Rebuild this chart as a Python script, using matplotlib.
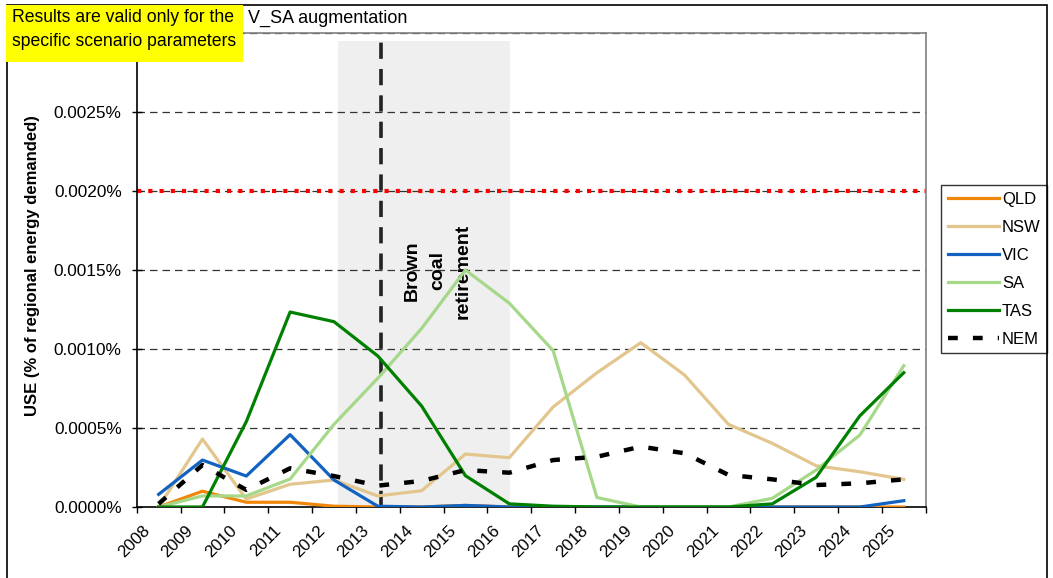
import matplotlib
matplotlib.use("Agg")
import matplotlib.pyplot as plt
import matplotlib.transforms as mtrans
from matplotlib.patches import Rectangle
import numpy as np

plt.rcParams['font.family'] = ['Liberation Sans', 'DejaVu Sans']

years = [str(y) for y in range(2008, 2026)]
qld = [0, 0.00010, 0.00003, 0.00003, 0.000005, 0, 0, 0.00001, 0, 0, 0, 0, 0, 0, 0, 0, 0, 0]
nsw = [0, 0.00043, 0.00005, 0.000144, 0.000171, 0.00007, 0.000103, 0.000335, 0.000312,
       0.000633, 0.00085, 0.00104, 0.000835, 0.000523, 0.000403, 0.000261, 0.000223, 0.000175]
vic = [0.00008, 0.000297, 0.000196, 0.000458, 0.000171, 0.000005, 0, 0.00001, 0,
       0, 0, 0, 0, 0, 0, 0, 0, 0.00004]
sa = [0, 0.00007, 0.00007, 0.000177, 0.000523, 0.000815, 0.00113, 0.0015, 0.00129,
      0.00099, 0.00006, 0, 0, 0, 0.000055, 0.000234, 0.000456, 0.000894]
tas = [0, 0, 0.00054, 0.001234, 0.001173, 0.000956, 0.000639, 0.000198, 0.00002,
       0.000005, 0, 0, 0, 0, 0.00002, 0.000188, 0.000578, 0.00085]
nem = [0.00002, 0.000266, 0.000108, 0.000245, 0.000196, 0.000135, 0.000165, 0.000234, 0.000217,
       0.000297, 0.000318, 0.000382, 0.00034, 0.000203, 0.000175, 0.000139, 0.00015, 0.000175]

series_names = ['QLD', 'NSW', 'VIC', 'SA', 'TAS']
series_vals = [qld, nsw, vic, sa, tas]
series_colors = ['#F0870A', '#E2C68E', '#1262C2', '#A6D88A', '#008000']

threshold = 0.002
retire_pos = 5.07
shade_span = (4.1, 8.02)
shade_top = 0.00295
yticks = [0, 0.0005, 0.001, 0.0015, 0.002, 0.0025, 0.003]

W, H = 1053, 578
fig = plt.figure(figsize=(W / 100, H / 100), dpi=100)
ax = fig.add_axes([136.7 / W, 1 - 507 / H, (925.7 - 136.7) / W, (507 - 33) / H])

x = np.arange(len(years))
ax.set_xlim(-0.5, len(years) - 0.5)
ax.set_ylim(0, 0.003)

# shaded retirement region
ax.fill_between(list(shade_span), 0, shade_top, color='#EFEFEF', zorder=0.5, lw=0)

# grid
for yv in yticks[1:]:
    ax.axhline(yv, color='#333333', lw=0.9, dashes=(6, 4), zorder=1)

# threshold
ax.axhline(threshold, color='#FF0000', lw=3.0, dashes=(1, 1.7), zorder=2,
           solid_capstyle='butt', dash_capstyle='butt')

# retirement vertical line
ax.axvline(retire_pos, color='#222222', lw=2.6, dashes=(4.5, 2.8), zorder=2)
ax.text(6.37, 0.001494, 'Brown\ncoal\nretirement', rotation=90, ha='center', va='center',
        fontsize=14, fontweight='bold', multialignment='center', linespacing=1.65, zorder=3)

for name, vals, col in zip(series_names, series_vals, series_colors):
    ax.plot(x, vals, color=col, lw=2.3, label=name, zorder=4)
ax.plot(x, nem, color='black', lw=3.2, dashes=(2.2, 3.4), label='NEM', zorder=5,
        dash_capstyle='butt')

# axes styling
for s in ['top', 'right']:
    ax.spines[s].set_color('#808080')
    ax.spines[s].set_linewidth(1.2)
for s in ['left', 'bottom']:
    ax.spines[s].set_color('black')
    ax.spines[s].set_linewidth(1.2)

ax.set_yticks(yticks)
ax.set_yticklabels(['{:.4f}%'.format(v) if v < 0.003 else '' for v in yticks], fontsize=12.4)
ax.tick_params(axis='y', direction='inout', length=7, width=1, pad=7.3)

ax.set_xticks(np.arange(-0.5, len(years), 1.0), minor=True)
ax.set_xticks(x)
ax.set_xticklabels(years, fontsize=12.2, rotation=45, ha='right', va='center',
                   rotation_mode='anchor')
ax.tick_params(axis='x', which='major', length=0, pad=15.5)
ax.tick_params(axis='x', which='minor', direction='out', length=4.5, width=1)
offset = mtrans.ScaledTranslation(-11.5 / 100, 0, fig.dpi_scale_trans)
for lab in ax.get_xticklabels():
    lab.set_transform(lab.get_transform() + offset)

ax.set_ylabel('USE (% of regional energy demanded)', fontsize=12, fontweight='bold')
ax.yaxis.set_label_coords((40 - 136.7) / (925.7 - 136.7), (507 - 266) / (507 - 33))

leg = ax.legend(loc='upper left', bbox_to_anchor=(941 / W, 1 - 185 / H),
                bbox_transform=fig.transFigure, fontsize=12, frameon=True, fancybox=False,
                edgecolor='black', handlelength=3.1, handletextpad=0.15, labelspacing=0.78,
                borderpad=0.4, borderaxespad=0)
leg.get_frame().set_linewidth(1.0)

# figure border
fig.add_artist(Rectangle((7 / W, -0.05), (1047 - 7) / W, 1.05 - 5 / H, transform=fig.transFigure,
                         fill=False, edgecolor='black', lw=1.2, zorder=10))
# yellow note
fig.add_artist(Rectangle((6 / W, 1 - 62 / H), (243 - 6) / W, (62 - 5) / H,
                         transform=fig.transFigure, facecolor='#FFFF00', edgecolor='none', zorder=11))
fig.text(12 / W, 1 - 18 / H, 'Results are valid only for the', fontsize=12.7, va='center',
         ha='left', zorder=12)
fig.text(12 / W, 1 - 42 / H, 'specific scenario parameters', fontsize=12.7, va='center',
         ha='left', zorder=12)
fig.text(248 / W, 1 - 18 / H, 'V_SA augmentation', fontsize=13, va='center', ha='left', zorder=12)

fig.savefig('out.png', dpi=100)
